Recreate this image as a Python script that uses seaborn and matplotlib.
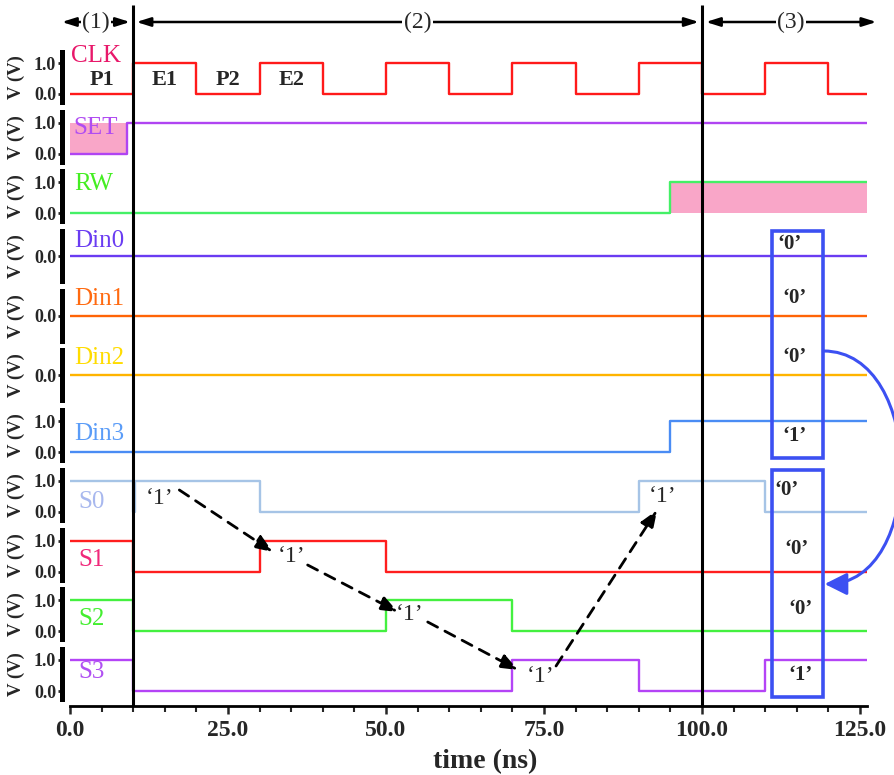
import matplotlib
matplotlib.use("Agg")
import matplotlib.pyplot as plt
import seaborn as sns
import pandas as pd
from matplotlib.patches import Rectangle, FancyArrowPatch
from matplotlib.path import Path
from matplotlib.ticker import MultipleLocator, FixedLocator

# ---- data ----
T_END = 126.1
signals = ["CLK", "SET", "RW", "Din0", "Din1", "Din2", "Din3", "S0", "S1", "S2", "S3"]
edges = {
    "CLK": [0, 10, 20, 30, 40, 50, 60, 70, 80, 90, 100, 110, 120],
    "SET": [0, 9],
    "RW": [0, 95],
    "Din0": [0],
    "Din1": [0],
    "Din2": [0],
    "Din3": [0, 95],
    "S0": [0, 10, 10.3, 30, 90, 110],
    "S1": [0, 10, 30, 50],
    "S2": [0, 10, 50, 70],
    "S3": [0, 10, 70, 90, 110],
}
levels = {
    "CLK": [0, 1, 0, 1, 0, 1, 0, 1, 0, 1, 0, 1, 0],
    "SET": [0, 1],
    "RW": [0, 1],
    "Din0": [0],
    "Din1": [0],
    "Din2": [0],
    "Din3": [0, 1],
    "S0": [1, 0, 1, 0, 1, 0],
    "S1": [1, 0, 1, 0],
    "S2": [1, 0, 1, 0],
    "S3": [1, 0, 1, 0, 1],
}
line_colors = {
    "CLK": "#ff1a1a", "SET": "#b044f2", "RW": "#44f066", "Din0": "#6a3cf2",
    "Din1": "#ff6406", "Din2": "#ffb400", "Din3": "#4a8cf4", "S0": "#a6c4e6",
    "S1": "#ff1e1e", "S2": "#44f040", "S3": "#b444f6",
}
name_colors = {
    "CLK": "#e8186a", "SET": "#b04cf2", "RW": "#44ee22", "Din0": "#6a3cf2",
    "Din1": "#ff6a10", "Din2": "#ffdc00", "Din3": "#5a9cf8", "S0": "#a8b8ee",
    "S1": "#f0287a", "S2": "#44ee30", "S3": "#b050f2",
}
# shaded (don't-care) intervals
shade = {"SET": (0, 9), "RW": (95, T_END)}
# clock phase labels
phase_names = ["P1", "E1", "P2", "E2"]
phase_x = [5, 15, 25, 35]
# stage boundaries on the time axis
stage_names = ["(1)", "(2)", "(3)"]
stage_spans = [(-1.3, 9.5), (10.5, 99.5), (100.6, 127.6)]
stage_bounds = [10, 100]

# ---- figure ----
sns.set_theme(style="white")
plt.rcParams["font.family"] = ["Liberation Serif", "DejaVu Serif"]

W_PX, H_PX = 894, 775
fig = plt.figure(figsize=(W_PX / 100, H_PX / 100), dpi=100)
L = 70 / W_PX
W = (867 - 70) / W_PX
TOP0, PITCH, PH = 52, 59.7, 50

name_y = {"CLK": 1.22, "SET": 0.82, "RW": 0.94, "Din0": 0.5, "Din1": 0.55,
          "Din2": 0.58, "Din3": 0.6, "S0": 0.31, "S1": 0.38, "S2": 0.4, "S3": 0.6}
name_x = {"S0": 1.3, "S1": 1.3, "S2": 1.3, "S3": 1.3, "CLK": 0.2}

axes = []
for i, sig in enumerate(signals):
    top = TOP0 + PITCH * i
    ax = fig.add_axes([L, 1 - (top + PH) / H_PX, W, PH / H_PX])
    axes.append(ax)
    t = edges[sig] + [T_END]
    v = levels[sig] + [levels[sig][-1]]
    df = pd.DataFrame({"t": t, "v": v})
    if sig in shade:
        a, b = shade[sig]
        ax.fill_between([a, b], 0, 1, color="#f9a6c8", lw=0, zorder=1)
    sns.lineplot(data=df, x="t", y="v", drawstyle="steps-post", color=line_colors[sig],
                 lw=1.7, estimator=None, ax=ax, zorder=3)
    ax.set_xlim(0, T_END)
    binary = sig not in ("Din0", "Din1", "Din2")
    if binary:
        ax.set_ylim(-8 / 31, 1 + 11 / 31)
        ax.yaxis.set_major_locator(FixedLocator([0, 1]))
        ax.set_yticklabels(["0.0", "1.0"])
    else:
        ax.set_ylim(-25 / 31, 25 / 31)
        ax.yaxis.set_major_locator(FixedLocator([0]))
        ax.set_yticklabels(["0.0"])
    ax.yaxis.set_minor_locator(MultipleLocator(0.1))
    for s in ("top", "right"):
        ax.spines[s].set_visible(False)
    ax.spines["left"].set_position(("outward", 6))
    ax.spines["left"].set_linewidth(3.6)
    ax.spines["left"].set_color("black")
    ax.tick_params(axis="y", which="major", direction="out", length=3, width=2,
                   pad=1, labelsize=13, left=True)
    ax.tick_params(axis="y", which="minor", direction="out", length=1.5, width=1.2,
                   left=True)
    for lab in ax.get_yticklabels():
        lab.set_fontweight("bold")
    ax.set_ylabel("V (V)", fontsize=13.5, fontweight="bold")
    ax.yaxis.set_label_coords(-0.056, 0.5)
    ax.set_xlabel("")
    ax.text(name_x.get(sig, 0.6), name_y[sig], sig, color=name_colors[sig], fontsize=18,
            ha="left", va="center")
    if i < len(signals) - 1:
        ax.spines["bottom"].set_visible(False)
        ax.set_xticks([])
    else:
        ax.spines["bottom"].set_position(("outward", 5))
        ax.spines["bottom"].set_linewidth(2)
        ax.spines["bottom"].set_color("black")
        ax.xaxis.set_major_locator(MultipleLocator(25))
        ax.xaxis.set_minor_locator(MultipleLocator(5))
        ax.set_xticklabels([f"{x:.1f}" for x in ax.get_xticks()])
        ax.tick_params(axis="x", which="major", direction="out", length=6, width=1.8,
                       labelsize=17, pad=4, bottom=True)
        ax.tick_params(axis="x", which="minor", direction="out", length=4, width=1.5,
                       bottom=True)
        for lab in ax.get_xticklabels():
            lab.set_fontweight("bold")
        ax.set_xlabel("time (ns)", fontsize=20, fontweight="bold")
        ax.xaxis.set_label_coords((485 - 70) / 797, -1.0)
    ax.set_facecolor("none")

# clock phase labels
for name, x in zip(phase_names, phase_x):
    axes[0].text(x, 0.45, name, fontsize=16, fontweight="bold", ha="center", va="center")

# ---- overlay (x in ns, y in figure pixels from top) ----
ov = fig.add_axes([L, 0, W, 1], zorder=10)
ov.set_xlim(0, T_END)
ov.set_ylim(H_PX, 0)
ov.axis("off")
ov.patch.set_alpha(0)

ov.vlines(stage_bounds, 5, 706, color="black", lw=2.2, clip_on=False)
for name, (a, b) in zip(stage_names, stage_spans):
    ov.annotate("", xy=(a, 22), xytext=(b, 22),
                arrowprops=dict(arrowstyle="<|-|>,head_length=0.7,head_width=0.22",
                                color="black", lw=1.8, shrinkA=0, shrinkB=0),
                annotation_clip=False)
    ov.text((a + b) / 2, 22, name, fontsize=17, ha="center", va="center",
            bbox=dict(facecolor="white", edgecolor="none", pad=1))

# propagation of the '1' through S0..S3
quote_pts = [(14.2, 498), (35.1, 557), (53.8, 614), (74.4, 676), (93.7, 497)]
for x, y in quote_pts:
    ov.text(x, y, "\u20181\u2019", fontsize=17, ha="center", va="center")
dash_arrows = [((17.3, 490), (32.1, 552)), ((37.6, 565), (51.9, 612)),
               ((56.6, 622), (70.9, 670)), ((76.9, 666), (92.9, 510))]
for start, end in dash_arrows:
    ov.annotate("", xy=end, xytext=start,
                arrowprops=dict(arrowstyle="-|>,head_length=0.9,head_width=0.35",
                                color="black", lw=2, linestyle=(0, (4, 3)),
                                shrinkA=0, shrinkB=0))

# stored/read values boxes
box_color = "#3c50f2"
for y0, y1 in [(231, 458), (470, 697)]:
    ov.add_patch(Rectangle((111.1, y0), 8.0, y1 - y0, fill=False, ec=box_color, lw=2.6,
                           clip_on=False))
box_vals = [("0", 113.9, 244), ("0", 114.7, 298), ("0", 114.7, 357), ("1", 114.7, 436),
            ("0", 113.4, 490), ("0", 115.0, 549), ("0", 115.5, 609), ("1", 115.5, 675)]
for val, x, y in box_vals:
    ov.text(x, y, f"\u2018{val}\u2019", fontsize=15, fontweight="bold", ha="center",
            va="center")

curve = Path([(119.2, 351), (135.5, 351), (135.5, 584), (119.4, 584)],
             [Path.MOVETO, Path.CURVE4, Path.CURVE4, Path.CURVE4])
arr = FancyArrowPatch(path=curve, arrowstyle="-|>,head_length=0.9,head_width=0.45",
                      color=box_color, lw=2.2, mutation_scale=15, clip_on=False)
ov.add_patch(arr)

fig.savefig("out.png", dpi=100)
